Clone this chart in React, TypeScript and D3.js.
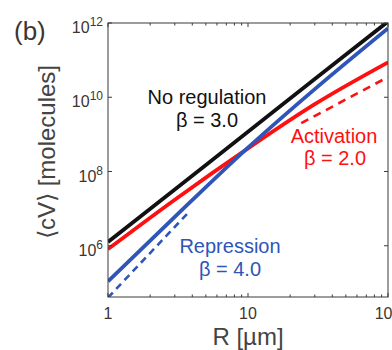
import * as d3 from "d3";
import { useEffect, useRef } from "react";

// R in µm, <cV> in molecules
const radius = [1, 3, 10, 30, 100];
const noRegulation = [1.26e6, 3.3e7, 1.17e9, 3.1e10, 1.1e12];
const activation = [8.1e5, 1.74e7, 4.2e8, 6.5e9, 8.7e10];
const repression = [1.1e5, 6.0e6, 4.4e8, 1.66e10, 7.2e11];

// power-law asymptotes (dashed)
const activationFitR = [24, 100];
const activationFit = [2.0e9, 3.5e10];
const repressionFitR = [1, 3.8];
const repressionFit = [4.0e4, 8.3e6];

const yTickExps = [6, 8, 10, 12];
const xTickValues = [1, 10, 100];

const BLACK = "#111111";
const RED = "#ff1010";
const BLUE = "#2f55b8";
const FONT = "'Liberation Sans', Arial, Helvetica, sans-serif";

const Chart = () => {
  const svgRef = useRef<SVGSVGElement | null>(null);

  useEffect(() => {
    const width = 392;
    const height = 350;
    const m = { left: 108, top: 23, right: 388, bottom: 297 };

    d3.select(svgRef.current).selectAll("*").remove();
    const svg = d3
      .select(svgRef.current)
      .attr("width", width)
      .attr("height", height)
      .style("font-family", FONT);

    const x = d3.scaleLog().domain([1, 100]).range([m.left, m.right]);
    const y = d3
      .scaleLog()
      .domain([Math.pow(10, 4.62), 1e12])
      .range([m.bottom, m.top]);

    svg
      .append("defs")
      .append("clipPath")
      .attr("id", "plot-clip")
      .append("rect")
      .attr("x", m.left)
      .attr("y", m.top)
      .attr("width", m.right - m.left)
      .attr("height", m.bottom - m.top);

    const line = d3
      .line<[number, number]>()
      .x((d) => x(d[0]))
      .y((d) => y(d[1]))
      .curve(d3.curveMonotoneX);

    const plot = svg.append("g").attr("clip-path", "url(#plot-clip)");

    const series = [
      { r: radius, v: noRegulation, color: BLACK, dash: null },
      { r: radius, v: activation, color: RED, dash: null },
      { r: radius, v: repression, color: BLUE, dash: null },
      { r: activationFitR, v: activationFit, color: RED, dash: "8,6" },
      { r: repressionFitR, v: repressionFit, color: BLUE, dash: "7,5" },
    ];

    series.forEach((s) => {
      const pts = s.r.map((r, i) => [r, s.v[i]] as [number, number]);
      plot
        .append("path")
        .attr("d", line(pts))
        .attr("fill", "none")
        .attr("stroke", s.color)
        .attr("stroke-width", s.dash ? 2.6 : 3.8)
        .attr("stroke-dasharray", s.dash);
    });

    // frame
    svg
      .append("rect")
      .attr("x", m.left)
      .attr("y", m.top)
      .attr("width", m.right - m.left)
      .attr("height", m.bottom - m.top)
      .attr("fill", "none")
      .attr("stroke", "#3a3a3a")
      .attr("stroke-width", 1);

    // x ticks (inward, top and bottom, with minor ticks)
    const xMinor: number[] = [];
    [1, 10].forEach((dec) => {
      for (let k = 2; k <= 9; k++) xMinor.push(dec * k);
    });
    const tickG = svg.append("g").attr("stroke", "#3a3a3a").attr("stroke-width", 1);
    xTickValues.forEach((t) => {
      tickG.append("line").attr("x1", x(t)).attr("x2", x(t)).attr("y1", m.bottom).attr("y2", m.bottom - 4);
      tickG.append("line").attr("x1", x(t)).attr("x2", x(t)).attr("y1", m.top).attr("y2", m.top + 4);
    });
    xMinor.forEach((t) => {
      tickG.append("line").attr("x1", x(t)).attr("x2", x(t)).attr("y1", m.bottom).attr("y2", m.bottom - 2.5);
      tickG.append("line").attr("x1", x(t)).attr("x2", x(t)).attr("y1", m.top).attr("y2", m.top + 2.5);
    });
    yTickExps.forEach((e) => {
      const ty = y(Math.pow(10, e));
      tickG.append("line").attr("x1", m.left).attr("x2", m.left + 4).attr("y1", ty).attr("y2", ty);
      tickG.append("line").attr("x1", m.right).attr("x2", m.right - 4).attr("y1", ty).attr("y2", ty);
    });

    // tick labels
    const labelColor = "#3d3530";
    xTickValues.forEach((t) => {
      svg
        .append("text")
        .attr("x", x(t))
        .attr("y", 319)
        .attr("text-anchor", "middle")
        .attr("font-size", 16)
        .attr("fill", labelColor)
        .text(String(t));
    });
    yTickExps.forEach((e) => {
      const ty = y(Math.pow(10, e));
      const txt = svg
        .append("text")
        .attr("x", 103)
        .attr("y", ty + 10)
        .attr("text-anchor", "end")
        .attr("font-size", 16)
        .attr("fill", labelColor);
      txt.append("tspan").text("10");
      txt.append("tspan").attr("dy", -7).attr("font-size", 12).text(String(e));
    });

    // axis titles
    svg
      .append("text")
      .attr("x", 248)
      .attr("y", 345)
      .attr("text-anchor", "middle")
      .attr("font-size", 24)
      .attr("fill", "#444")
      .text("R [\u00b5m]");
    svg
      .append("text")
      .attr("transform", "translate(55,152) rotate(-90)")
      .attr("text-anchor", "middle")
      .attr("font-size", 24)
      .attr("fill", "#444")
      .text("\u27e8cV\u27e9 [molecules]");

    svg
      .append("text")
      .attr("x", 14)
      .attr("y", 40)
      .attr("font-size", 26)
      .attr("fill", "#3d3530")
      .text("(b)");

    // annotations
    const notes = [
      { t: "No regulation", x: 207, y: 104, c: BLACK },
      { t: "\u03b2 = 3.0", x: 207, y: 127, c: BLACK },
      { t: "Activation", x: 334, y: 143, c: RED },
      { t: "\u03b2 = 2.0", x: 335, y: 165, c: RED },
      { t: "Repression", x: 230, y: 253, c: BLUE },
      { t: "\u03b2 = 4.0", x: 230, y: 276, c: BLUE },
    ];
    notes.forEach((n) => {
      svg
        .append("text")
        .attr("x", n.x)
        .attr("y", n.y)
        .attr("text-anchor", "middle")
        .attr("font-size", 20)
        .attr("fill", n.c)
        .text(n.t);
    });
  }, []);

  return <svg ref={svgRef} style={{ position: "absolute", left: 0, top: 0 }} />;
};

export default function App() {
  return <Chart />;
}
